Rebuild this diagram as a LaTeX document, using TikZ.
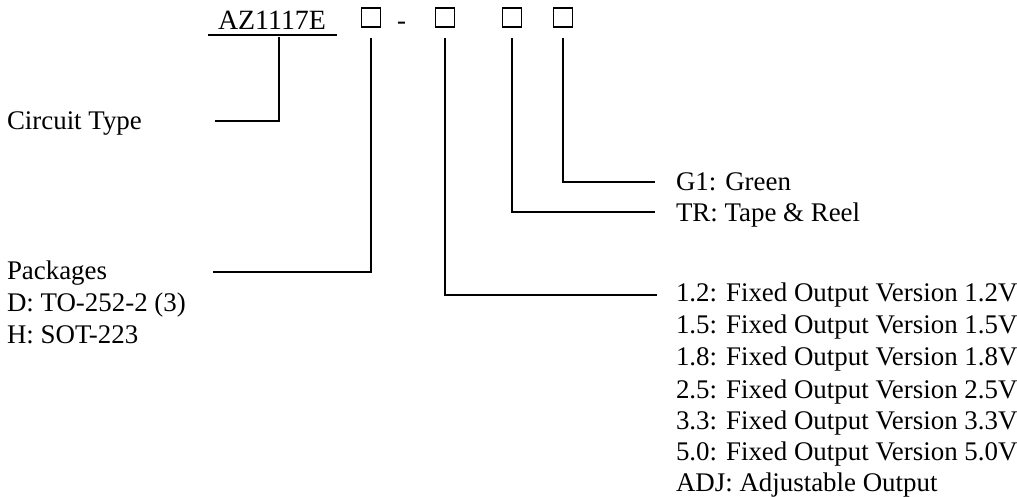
\documentclass[tikz,border=0pt]{standalone}
\usepackage{fontspec}
\setmainfont{Liberation Serif}
\begin{document}
\begin{tikzpicture}[x=1bp,y=-1bp,line width=2bp,
  lbl/.style={inner sep=0pt,anchor=base west,font=\fontsize{27}{32}\selectfont},
  sqbox/.style={draw,line width=1.6bp,minimum size=19bp,inner sep=0pt}]
\useasboundingbox (0,0) rectangle (1017,497);
% header
\node[inner sep=0pt,anchor=base west,font=\fontsize{28}{32}\selectfont] (az) at (217,30) {AZ1117E};
\coordinate (ul1) at (208,35);
\coordinate (ul2) at (337,35);
\draw[line width=1.6bp] (ul1) -- (ul2);
\node[sqbox] (b1) at (371,17.5) {};
\node[lbl] (dash) at (396,30) {-};
\node[sqbox] (b2) at (445,17.5) {};
\node[sqbox] (b3) at (512,17.5) {};
\node[sqbox] (b4) at (563,17.5) {};
% labels
\node[lbl] (ct) at (6,130) {Circuit Type};
\node[lbl] (g1) at (675,191) {G1: Green};
\node[lbl] (tr) at (675,222) {TR: Tape \& Reel};
\node[lbl] (pk) at (6,280) {Packages};
\node[lbl] (pd) at (6,312) {D: TO-252-2 (3)};
\node[lbl] (ph) at (6,344) {H: SOT-223};
\node[lbl] (v1) at (675,302) {1.2: Fixed Output Version 1.2V};
\node[lbl] (v2) at (675,334) {1.5: Fixed Output Version 1.5V};
\node[lbl] (v3) at (675,366) {1.8: Fixed Output Version 1.8V};
\node[lbl] (v4) at (675,398) {2.5: Fixed Output Version 2.5V};
\node[lbl] (v5) at (675,429) {3.3: Fixed Output Version 3.3V};
\node[lbl] (v6) at (675,460) {5.0: Fixed Output Version 5.0V};
\node[lbl] (v7) at (675,491) {ADJ: Adjustable Output};
% connectors
\coordinate (ctv) at (279,37);
\coordinate (cte) at (215,121);
\draw (ctv) |- (cte);
\coordinate (pke) at (213,272);
\draw ([yshift=-10bp]b1.south) |- (pke);
\draw ([yshift=-10bp]b2.south) |- ([xshift=-18bp,yshift=7bp]v1.base west);
\draw ([yshift=-10bp]b3.south) |- ([xshift=-20bp,yshift=10bp]tr.base west);
\draw ([yshift=-10bp]b4.south) |- ([xshift=-20bp,yshift=9bp]g1.base west);
\end{tikzpicture}
\end{document}
